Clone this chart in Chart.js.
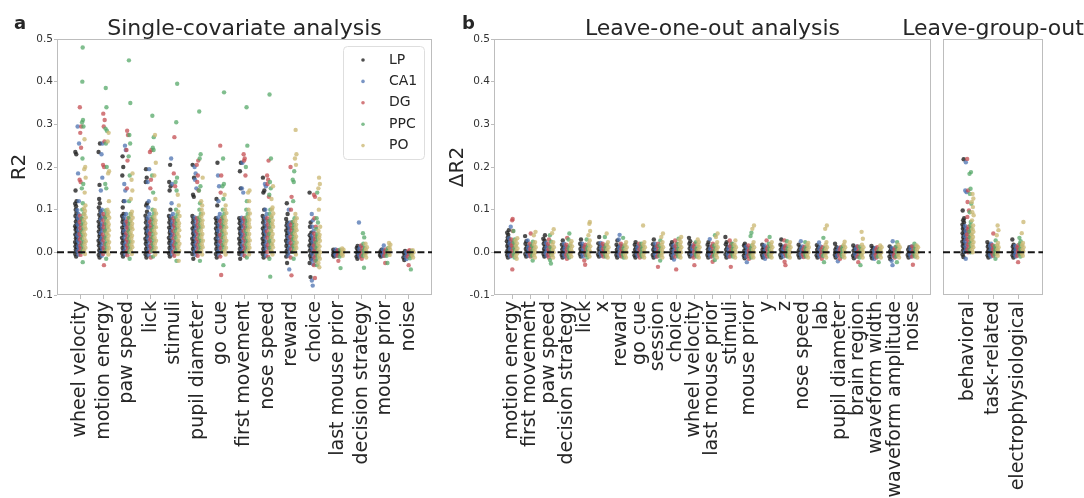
<!DOCTYPE html>
<html>
<head>
<meta charset="utf-8">
<script src="https://cdn.jsdelivr.net/npm/chart.js@4.4.1/dist/chart.umd.min.js"></script>
<style>
  html, body { margin: 0; padding: 0; background: #fff; }
  #figure { position: relative; width: 1084px; height: 498px; overflow: hidden; background: #fff; }
  #figure canvas { position: absolute; top: 0; }
</style>
</head>
<body>
<div id="figure">
  <canvas id="panelA" width="440" height="498" style="left:0px"></canvas>
  <canvas id="panelB" width="500" height="498" style="left:440px"></canvas>
  <canvas id="panelC" width="204" height="498" style="left:880px"></canvas>
</div>
<script>
// ---- recording regions (hue order) ----
const regions = ['LP', 'CA1', 'DG', 'PPC', 'PO'];

// ---- a: single-covariate R2, one list of session values per covariate ----
const singleCategories = ['wheel velocity', 'motion energy', 'paw speed', 'lick', 'stimuli',
  'pupil diameter', 'go cue', 'first movement', 'nose speed', 'reward', 'choice',
  'last mouse prior', 'decision strategy', 'mouse prior', 'noise'];

const singleLP = [
  [-.01,-.004,.002,.006,.011,.014,.019,.024,.029,.033,.038,.042,.047,.053,.057,.061,.066,.072,.079,.085,.092,.1,.108,.114,.12,.145,.23,.235],
  [-.012,-.006,0,.005,.01,.016,.021,.027,.032,.038,.043,.049,.055,.06,.065,.072,.08,.088,.097,.105,.115,.125,.158,.235,.255],
  [-.01,-.003,.004,.01,.016,.022,.028,.034,.041,.046,.052,.058,.064,.071,.078,.085,.09,.105,.12,.18,.2,.225],
  [-.012,-.005,.002,.008,.014,.02,.026,.032,.038,.045,.05,.056,.062,.07,.078,.086,.095,.11,.115,.165,.175,.195],
  [-.01,-.003,.004,.01,.016,.022,.028,.034,.04,.046,.052,.058,.064,.07,.078,.085,.1,.145,.155,.165,.205],
  [-.015,-.004,.002,.008,.014,.02,.026,.032,.038,.044,.05,.056,.062,.07,.078,.085,.13,.135,.175,.205],
  [-.012,-.004,.002,.008,.014,.02,.026,.032,.038,.044,.05,.056,.062,.068,.075,.08,.11,.125,.21],
  [-.015,-.004,.002,.008,.014,.02,.026,.032,.038,.044,.05,.056,.062,.068,.075,.08,.15,.19,.21],
  [-.012,-.004,.002,.008,.014,.02,.026,.032,.038,.044,.05,.056,.062,.07,.078,.085,.1,.14,.145,.175],
  [-.025,-.01,-.003,.003,.009,.015,.021,.027,.033,.039,.045,.051,.057,.063,.07,.078,.09,.115],
  [-.058,-.025,-.015,-.008,-.002,.004,.01,.016,.022,.028,.034,.04,.046,.06,.07,.14],
  [-.01,-.006,-.003,0,.003,.006],
  [-.015,-.01,-.005,0,.005,.01,.015],
  [-.01,-.006,-.002,.002,.006],
  [-.018,-.012,-.006,-.001,.003]
];
const singleCA1 = [
  [-.005,.003,.01,.014,.022,.027,.035,.04,.045,.053,.061,.066,.075,.081,.09,.099,.12,.185,.255,.295],
  [-.008,.001,.009,.015,.023,.03,.036,.045,.051,.06,.067,.077,.084,.093,.1,.145,.175,.23,.255],
  [-.005,.003,.011,.018,.025,.034,.041,.05,.059,.066,.073,.083,.09,.12,.145,.16,.24,.25],
  [-.006,.002,.01,.017,.026,.033,.043,.05,.057,.067,.074,.081,.09,.105,.12,.165,.195],
  [-.005,.003,.012,.019,.026,.036,.043,.05,.06,.067,.074,.084,.09,.115,.16,.22],
  [-.006,.002,.011,.018,.025,.034,.043,.05,.057,.066,.075,.082,.15,.17,.185,.2],
  [-.006,.002,.01,.019,.026,.033,.042,.051,.058,.065,.074,.082,.09,.12,.155,.18],
  [-.006,.003,.01,.017,.026,.035,.042,.049,.058,.067,.074,.081,.14,.15,.21],
  [-.008,.002,.011,.018,.025,.034,.043,.05,.057,.066,.075,.082,.09,.1,.155,.16],
  [-.04,-.008,.001,.009,.015,.023,.029,.036,.044,.05,.058,.064,.07,.1],
  [-.078,-.066,-.028,-.018,-.01,-.003,.005,.011,.018,.026,.032,.04,.05,.06,.075,.09],
  [-.008,-.005,-.002,.001,.004,.007],
  [-.01,-.004,.002,.008,.014,.07],
  [-.008,-.003,.002,.007,.016],
  [-.016,-.01,-.004,.001]
];
const singleDG = [
  [-.006,.002,.009,.015,.022,.03,.036,.043,.051,.057,.065,.071,.079,.086,.165,.17,.245,.28,.295,.34],
  [-.03,-.004,.005,.011,.019,.028,.035,.042,.051,.059,.066,.075,.083,.09,.2,.205,.26,.295,.31,.325],
  [-.007,.002,.01,.016,.024,.03,.037,.045,.051,.058,.066,.072,.08,.15,.215,.24,.275,.285],
  [-.012,.001,.009,.015,.022,.03,.036,.044,.05,.058,.064,.071,.078,.15,.17,.235,.24],
  [-.008,.001,.01,.017,.024,.033,.041,.05,.057,.064,.073,.08,.155,.185,.27],
  [-.008,.001,.009,.018,.025,.032,.041,.049,.058,.065,.072,.08,.145,.165,.18,.205,.215],
  [-.053,-.01,.001,.01,.017,.025,.034,.041,.049,.058,.065,.073,.08,.14,.18,.25],
  [-.008,.002,.009,.017,.026,.033,.041,.05,.057,.065,.074,.08,.18,.215,.22,.23],
  [-.01,.001,.01,.017,.025,.034,.041,.049,.058,.065,.073,.08,.13,.16,.17,.18,.215],
  [-.054,-.012,.001,.008,.016,.022,.03,.036,.043,.051,.057,.064,.07,.1,.13,.2],
  [-.06,-.03,-.02,-.012,-.005,.003,.009,.016,.024,.03,.037,.044,.06,.08,.13,.135],
  [-.02,-.008,-.004,-.001,.002,.005],
  [-.015,-.008,-.002,.004,.01,.016],
  [-.025,-.008,-.003,.002,.007],
  [-.03,-.01,-.004,.002,.005]
];
const singlePPC = [
  [-.023,.001,.008,.017,.024,.032,.041,.048,.056,.065,.072,.08,.09,.1,.115,.15,.16,.22,.295,.305,.31,.4,.48],
  [-.015,.002,.01,.019,.026,.034,.043,.05,.058,.067,.074,.082,.09,.098,.15,.16,.2,.255,.285,.29,.34,.385],
  [-.015,.001,.009,.018,.025,.033,.042,.049,.057,.066,.073,.081,.09,.12,.18,.225,.255,.275,.35,.45],
  [-.01,.003,.011,.019,.028,.035,.043,.052,.059,.067,.076,.083,.091,.1,.14,.18,.24,.245,.27,.32],
  [-.02,.002,.01,.019,.026,.034,.043,.05,.058,.067,.074,.082,.09,.1,.145,.165,.175,.305,.395],
  [-.02,.002,.01,.018,.027,.034,.042,.051,.058,.066,.075,.082,.09,.1,.115,.145,.155,.22,.23,.33],
  [-.03,.002,.011,.018,.026,.035,.042,.05,.059,.066,.074,.083,.09,.1,.125,.155,.16,.22,.375],
  [-.012,.002,.01,.019,.026,.034,.043,.05,.058,.067,.074,.082,.09,.1,.12,.2,.25,.34],
  [-.057,-.015,.002,.01,.019,.026,.034,.043,.05,.058,.067,.074,.082,.09,.1,.135,.15,.165,.22,.37],
  [-.015,.001,.009,.015,.022,.03,.036,.044,.05,.058,.064,.072,.08,.12,.165,.17,.19],
  [-.03,-.02,-.012,-.004,.002,.01,.016,.023,.031,.037,.044,.055,.07,.08,.14],
  [-.037,-.01,-.005,-.001,.003,.006],
  [-.036,-.008,-.002,.004,.01,.02,.035,.045],
  [-.025,-.008,-.002,.004,.01],
  [-.04,-.014,-.008,-.002,.003]
];
const singlePO = [
  [-.004,.004,.011,.019,.026,.033,.041,.047,.055,.061,.068,.076,.082,.089,.097,.103,.11,.14,.175,.195,.2,.265],
  [-.005,.003,.01,.018,.024,.031,.039,.045,.052,.06,.066,.073,.081,.087,.094,.1,.12,.185,.19,.26,.28],
  [-.004,.004,.012,.018,.025,.033,.039,.046,.054,.06,.067,.075,.081,.088,.095,.125,.145,.17,.185],
  [-.005,.003,.011,.02,.027,.035,.044,.051,.059,.068,.075,.083,.091,.099,.125,.18,.21,.275],
  [-.02,-.004,.004,.013,.02,.028,.037,.044,.052,.061,.068,.076,.085,.095,.11,.135],
  [-.005,.003,.012,.019,.027,.036,.043,.051,.06,.067,.075,.084,.091,.1,.11,.12,.175],
  [-.005,.003,.011,.02,.027,.035,.044,.051,.059,.068,.075,.083,.092,.1,.11,.135],
  [-.005,.004,.011,.019,.028,.035,.043,.052,.059,.067,.076,.083,.091,.1,.12,.14,.145],
  [-.005,.003,.012,.019,.027,.036,.043,.051,.06,.067,.075,.084,.091,.1,.105,.125,.155],
  [-.005,.002,.01,.016,.023,.031,.037,.044,.052,.058,.065,.073,.08,.09,.205,.22,.23,.287],
  [-.035,-.025,-.015,-.008,0,.006,.014,.02,.027,.035,.041,.05,.06,.1,.125,.15,.16,.175],
  [-.008,-.004,0,.003,.006,.009],
  [-.012,-.006,0,.006,.012,.02],
  [-.006,0,.006,.012,.018,.022],
  [-.012,-.006,0,.005]
];

// ---- b: leave-one-out delta R2 ----
const looCategories = ['motion energy', 'first movement', 'paw speed', 'decision strategy', 'lick', 'x',
  'reward', 'go cue', 'session', 'choice', 'wheel velocity', 'last mouse prior', 'stimuli',
  'mouse prior', 'y', 'z', 'nose speed', 'lab', 'pupil diameter', 'brain region',
  'waveform width', 'waveform amplitude', 'noise'];

const looLP = [
  [-.012,-.006,0,.005,.011,.015,.02,.026,.03,.035,.041,.046,.052],
  [-.01,-.004,.002,.008,.013,.02,.026,.038],
  [-.01,-.004,.003,.008,.014,.02,.027,.032,.04],
  [-.012,-.006,0,.007,.012,.018,.028],
  [-.01,-.004,.002,.008,.015,.02,.03],
  [-.01,-.005,.002,.008,.014,.021,.036],
  [-.012,-.006,0,.006,.013,.018,.028],
  [-.012,-.007,0,.006,.012,.018,.024],
  [-.012,-.006,.001,.006,.012,.019,.03],
  [-.013,-.006,0,.006,.012,.018,.024],
  [-.01,-.004,.002,.009,.014,.02,.026,.034],
  [-.012,-.006,0,.007,.012,.018,.024],
  [-.012,-.005,0,.006,.012,.019,.024,.036],
  [-.014,-.008,-.002,.004,.01,.016,.02],
  [-.012,-.006,.001,.006,.012,.018],
  [-.012,-.006,0,.006,.013,.018,.03],
  [-.012,-.006,0,.005,.012,.018],
  [-.012,-.007,0,.006,.012,.017],
  [-.012,-.006,0,.006,.012,.02],
  [-.014,-.008,-.002,.004,.01,.016],
  [-.014,-.008,-.002,.004,.01,.015],
  [-.016,-.01,-.004,.002,.008,.014],
  [-.012,-.006,0,.006,.012]
];
const looCA1 = [
  [-.01,-.004,.002,.008,.014,.02,.026,.033,.06],
  [-.008,-.002,.004,.01,.016,.028],
  [-.008,-.002,.004,.01,.016,.022],
  [-.01,-.004,.002,.008,.014,.02],
  [-.01,-.004,.002,.008,.014,.02],
  [-.008,-.002,.004,.01,.016,.022],
  [-.008,-.002,.004,.01,.016,.03,.041],
  [-.008,-.002,.004,.01,.016],
  [-.01,-.004,.002,.008,.014,.02],
  [-.017,-.008,-.002,.004,.01,.016],
  [-.008,-.002,.004,.01,.016],
  [-.01,-.004,.002,.008,.014,.031],
  [-.01,-.004,.002,.008,.014],
  [-.023,-.01,-.004,.002,.008,.014],
  [-.015,-.008,-.002,.004,.01,.016],
  [-.01,-.004,.002,.008,.014],
  [-.01,-.004,.002,.008,.014,.026],
  [-.01,-.004,.002,.008,.014,.023],
  [-.021,-.008,-.002,.004,.01],
  [-.01,-.004,.002,.008,.014],
  [-.015,-.008,-.002,.004,.01],
  [-.03,-.02,-.008,-.002,.004,.01,.026],
  [-.01,-.004,.002,.008,.014]
];
const looDG = [
  [-.04,-.008,-.002,.004,.01,.016,.022,.03,.05,.075,.078],
  [-.01,-.004,.002,.008,.014,.02,.044],
  [-.012,-.005,.001,.007,.013,.02,.03],
  [-.015,-.006,0,.006,.012,.018,.034],
  [-.029,-.019,-.006,0,.006,.012,.018],
  [-.01,-.004,.002,.008,.014,.02],
  [-.01,-.004,.002,.008,.014,.02],
  [-.012,-.005,.001,.007,.013,.02],
  [-.034,-.01,-.004,.002,.008,.014,.02],
  [-.04,-.01,-.004,.002,.008,.014,.02,.028],
  [-.03,-.012,-.005,.001,.007,.013,.02],
  [-.022,-.01,-.004,.002,.008,.014,.02],
  [-.034,-.01,-.004,.002,.008,.014,.02,.028],
  [-.015,-.008,-.002,.004,.01,.016],
  [-.01,-.004,.002,.008,.014,.028],
  [-.03,-.022,-.008,-.002,.004,.01,.016,.028],
  [-.011,-.005,.001,.007,.013],
  [-.015,-.006,0,.006,.012],
  [-.015,-.006,0,.006,.012],
  [-.023,-.01,-.004,.002,.008,.014],
  [-.012,-.006,0,.006,.012],
  [-.012,-.006,0,.006,.012],
  [-.029,-.01,-.004,.002,.008,.014]
];
const looPPC = [
  [-.012,-.005,.002,.009,.016,.023,.03,.05],
  [-.019,-.008,-.002,.004,.01,.016,.025],
  [-.026,-.018,-.006,0,.006,.012,.025,.04],
  [-.012,-.005,.002,.009,.016,.03,.044],
  [-.012,-.005,.002,.009,.016,.03],
  [-.01,-.003,.004,.011,.018,.036],
  [-.012,-.005,.002,.009,.016,.034],
  [-.01,-.004,.002,.008,.014,.02],
  [-.019,-.008,-.002,.004,.01,.016,.028],
  [-.01,-.004,.002,.008,.014,.02,.032],
  [-.01,-.004,.002,.008,.014,.024],
  [-.018,-.008,-.002,.004,.01,.016,.04],
  [-.01,-.004,.002,.008,.014,.02],
  [-.012,-.005,.002,.009,.016,.038,.046],
  [-.01,-.004,.002,.008,.014,.02,.036],
  [-.01,-.004,.002,.008,.014,.026],
  [-.01,-.004,.002,.008,.014,.024],
  [-.023,-.008,-.002,.004,.01,.034],
  [-.01,-.004,.002,.008,.014],
  [-.03,-.012,-.005,.001,.007,.013],
  [-.023,-.01,-.004,.002,.008],
  [-.023,-.01,-.004,.002,.008,.014,.024],
  [-.01,-.004,.002,.008,.014,.02]
];
const looPO = [
  [-.015,-.009,-.003,.003,.009,.015,.021,.027,.033],
  [-.012,-.006,0,.006,.012,.018,.024,.04,.048],
  [-.012,-.006,0,.006,.012,.018,.024,.045,.054],
  [-.01,-.004,.002,.008,.014,.02,.026],
  [-.01,-.004,.002,.008,.014,.02,.028,.04,.05,.067,.071],
  [-.012,-.006,0,.006,.012,.018,.024,.044],
  [-.012,-.006,0,.006,.012,.018,.024],
  [-.012,-.006,0,.006,.012,.018,.024,.063],
  [-.012,-.006,0,.006,.012,.018,.024,.036,.044],
  [-.012,-.006,0,.006,.012,.018,.024,.03,.036],
  [-.012,-.006,0,.006,.012,.018,.024,.03],
  [-.012,-.006,0,.006,.012,.018,.024,.036,.044],
  [-.012,-.006,0,.006,.012,.018,.028],
  [-.012,-.006,0,.006,.012,.018,.024,.055,.063],
  [-.012,-.006,0,.006,.012,.018,.024],
  [-.012,-.006,0,.006,.012,.018,.024],
  [-.012,-.006,0,.006,.012,.018,.022],
  [-.012,-.006,0,.006,.012,.018,.024,.055,.063],
  [-.012,-.006,0,.006,.012,.018,.025],
  [-.012,-.006,0,.006,.012,.018,.032,.048],
  [-.012,-.006,0,.006,.012,.016],
  [-.012,-.006,0,.006,.012,.018],
  [-.012,-.006,0,.006,.012,.016]
];

// ---- b (right): leave-group-out delta R2 ----
const groupCategories = ['behavioral', 'task-related', 'electrophysiological'];

const groupLP = [
  [-.011,-.005,0,.005,.01,.015,.02,.025,.03,.035,.04,.045,.05,.055,.06,.065,.07,.075,.08,.098,.218],
  [-.012,-.007,-.002,.003,.008,.013,.018,.024],
  [-.012,-.007,-.002,.003,.008,.013,.018,.03]
];
const groupCA1 = [
  [-.015,.002,.008,.014,.02,.026,.032,.038,.044,.05,.056,.062,.141,.145,.211],
  [-.01,-.005,0,.005,.01,.015,.02],
  [-.01,-.005,0,.005,.01,.015]
];
const groupDG = [
  [0,.006,.012,.018,.024,.03,.036,.042,.048,.054,.06,.083,.098,.118,.145,.219],
  [-.008,-.003,.002,.007,.012,.017,.044],
  [-.023,-.008,-.003,.002,.007,.012,.017]
];
const groupPPC = [
  [0,.007,.014,.021,.028,.035,.042,.049,.056,.063,.071,.094,.114,.137,.149,.184,.188],
  [-.015,-.005,0,.005,.01,.015,.028],
  [-.01,-.004,.002,.008,.014,.02,.026,.034]
];
const groupPO = [
  [0,.006,.012,.018,.024,.03,.036,.042,.048,.054,.063,.075,.087,.094,.106,.118,.126,.137],
  [-.008,-.003,.002,.007,.012,.017,.022,.04,.052,.063],
  [-.008,-.003,.002,.007,.012,.017,.022,.045,.071]
];

// ---- styling ----
const FONT = "'DejaVu Sans', sans-serif";
const INK = '#262626';
const regionColors = ['rgba(38,38,38,0.82)', 'rgba(76,114,176,0.75)', 'rgba(196,78,82,0.75)',
  'rgba(85,168,104,0.75)', 'rgba(204,185,116,0.78)'];
// fixed horizontal scatter pattern for the strip plot (fractions of the jitter width)
const JITTER = [0.05,-0.38,0.29,-0.12,0.44,-0.27,0.16,-0.47,0.36,-0.04,0.22,-0.33,0.48,-0.2,0.1,-0.42,0.32,-0.08,0.4,-0.3,0.18,-0.16,0.02,-0.45,0.26,-0.24,0.12,-0.36];

Chart.defaults.font.family = FONT;
Chart.defaults.color = INK;

function stripPoints(perCategory, hue, step, spread) {
  const pts = [];
  perCategory.forEach((vals, i) => {
    vals.forEach((v, k) => {
      pts.push({ x: i + (hue - 2) * step + JITTER[k % JITTER.length] * spread, y: v });
    });
  });
  return pts;
}

function drawLegend(chart, L) {
  const { ctx } = chart;
  ctx.save();
  ctx.beginPath();
  if (ctx.roundRect) ctx.roundRect(L.x + 0.5, L.y + 0.5, L.w, L.h, 4);
  else ctx.rect(L.x + 0.5, L.y + 0.5, L.w, L.h);
  ctx.fillStyle = 'rgba(255,255,255,0.85)';
  ctx.fill();
  ctx.strokeStyle = '#dedede';
  ctx.lineWidth = 1;
  ctx.stroke();
  chart.data.datasets.forEach((ds, i) => {
    const cy = L.y + L.firstRow + i * L.rowGap;
    ctx.fillStyle = ds.backgroundColor;
    ctx.beginPath();
    ctx.arc(L.x + 20, cy, 1.8, 0, Math.PI * 2);
    ctx.fill();
    ctx.fillStyle = INK;
    ctx.font = `14px ${FONT}`;
    ctx.textAlign = 'left';
    ctx.textBaseline = 'middle';
    ctx.fillText(ds.label, L.x + 46, cy);
  });
  ctx.restore();
}

const panelDecor = {
  id: 'panelDecor',
  beforeDatasetsDraw(chart) {
    const { ctx, chartArea: a } = chart;
    ctx.save();
    ctx.strokeStyle = '#bdbdbd';
    ctx.lineWidth = 1;
    ctx.strokeRect(a.left + 0.5, a.top + 0.5, a.right - a.left - 1, a.bottom - a.top - 1);
    ctx.restore();
  },
  afterDatasetsDraw(chart, args, o) {
    const { ctx, chartArea: a, scales } = chart;
    const y0 = scales.y.getPixelForValue(0);
    ctx.save();
    ctx.strokeStyle = '#161616';
    ctx.lineWidth = 2;
    ctx.setLineDash([7, 3.6]);
    ctx.beginPath();
    ctx.moveTo(a.left, y0);
    ctx.lineTo(a.right, y0);
    ctx.stroke();
    ctx.restore();
    if (o.legend) drawLegend(chart, o.legend);
  },
  afterDraw(chart, args, o) {
    const { ctx, chartArea: a } = chart;
    ctx.save();
    ctx.fillStyle = INK;
    ctx.textBaseline = 'alphabetic';
    ctx.font = `22px ${FONT}`;
    ctx.textAlign = 'center';
    ctx.fillText(o.title, (a.left + a.right) / 2, 35);
    if (o.letter) {
      ctx.font = `bold 18px ${FONT}`;
      ctx.textAlign = 'left';
      ctx.fillText(o.letter, o.letterX, 29);
    }
    if (o.yTitle) {
      ctx.translate(o.yTitleX, (a.top + a.bottom) / 2);
      ctx.rotate(-Math.PI / 2);
      ctx.font = `20px ${FONT}`;
      ctx.textAlign = 'center';
      ctx.textBaseline = 'middle';
      ctx.fillText(o.yTitle, 0, 0);
    }
    ctx.restore();
  }
};

function makePanel(id, p) {
  const canvas = document.getElementById(id);
  return new Chart(canvas, {
    type: 'scatter',
    data: {
      datasets: regions.map((name, h) => ({
        label: name,
        data: stripPoints(p.series[h], h, p.step, p.spread),
        backgroundColor: regionColors[h],
        borderWidth: 0,
        pointRadius: 2.2,
        pointHoverRadius: 2.2,
        order: 5 - h
      }))
    },
    options: {
      responsive: false,
      animation: false,
      devicePixelRatio: 1,
      events: [],
      layout: { padding: { top: 39, right: p.padRight, bottom: 0, left: 0 } },
      plugins: {
        legend: { display: false },
        tooltip: { enabled: false },
        panelDecor: { title: p.title, letter: p.letter, letterX: p.letterX,
          yTitle: p.yTitle, yTitleX: p.yTitleX, legend: p.legend }
      },
      scales: {
        x: {
          type: 'linear',
          min: -1,
          max: p.categories.length,
          afterBuildTicks: s => { s.ticks = p.categories.map((c, i) => ({ value: i })); },
          ticks: {
            autoSkip: false,
            minRotation: 90,
            maxRotation: 90,
            padding: 2,
            color: INK,
            font: { size: 19 },
            callback: v => p.categories[v] ?? ''
          },
          grid: { drawOnChartArea: false, drawTicks: true, tickLength: 4, color: '#bdbdbd' },
          border: { display: false },
          afterFit: s => { s.height = 203; s.paddingLeft = 0; s.paddingRight = 0; }
        },
        y: {
          min: -0.1,
          max: 0.5,
          ticks: {
            display: p.showY,
            stepSize: 0.1,
            padding: 1,
            color: '#333',
            font: { size: 10.5 },
            callback: v => (Math.abs(v) < 1e-9 ? '0.0' : v.toFixed(1))
          },
          grid: { drawOnChartArea: false, drawTicks: p.showY, tickLength: 3, color: '#bdbdbd' },
          border: { display: false },
          afterFit: s => { s.width = p.plotLeft; s.paddingTop = 0; s.paddingBottom = 0; }
        }
      }
    },
    plugins: [panelDecor]
  });
}

makePanel('panelA', {
  categories: singleCategories,
  series: [singleLP, singleCA1, singleDG, singlePPC, singlePO],
  step: 0.094, spread: 0.085,
  plotLeft: 57, padRight: 8, showY: true,
  title: 'Single-covariate analysis', letter: 'a', letterX: 14,
  yTitle: 'R2', yTitleX: 20,
  legend: { x: 343, y: 46, w: 81, h: 113, firstRow: 14, rowGap: 21.4 }
});

makePanel('panelB', {
  categories: looCategories,
  series: [looLP, looCA1, looDG, looPPC, looPO],
  step: 0.12, spread: 0.11,
  plotLeft: 54, padRight: 9, showY: true,
  title: 'Leave-one-out analysis', letter: 'b', letterX: 22,
  yTitle: 'ΔR2', yTitleX: 18
});

makePanel('panelC', {
  categories: groupCategories,
  series: [groupLP, groupCA1, groupDG, groupPPC, groupPO],
  step: 0.094, spread: 0.08,
  plotLeft: 63, padRight: 41, showY: false,
  title: 'Leave-group-out'
});
</script>
</body>
</html>
